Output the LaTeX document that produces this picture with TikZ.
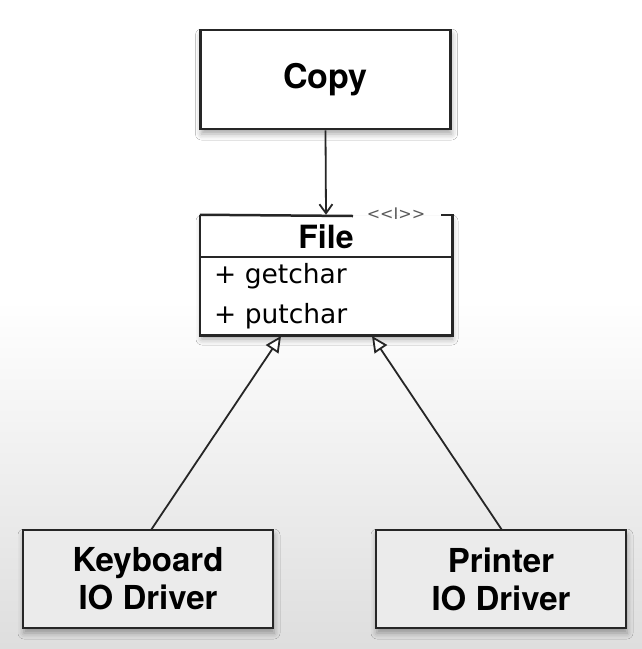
\documentclass[tikz,border=0pt]{standalone}
\usepackage{fontspec}
\setmainfont{TeX Gyre Heros}
\newfontfamily\methodfont{DejaVu Sans}
\usetikzlibrary{arrows.meta,shadows.blur}
\begin{document}
\begin{tikzpicture}[x=1pt,y=-1pt,
  box/.style={draw=black!85, line width=2.5pt, rectangle, inner sep=0pt,
    blur shadow={shadow xshift=1pt, shadow yshift=-5pt, shadow blur radius=6pt, shadow opacity=35}},
  boxlabel/.style={font=\bfseries\fontsize{34}{38}\selectfont, align=center},
  drvlabel/.style={font=\bfseries\fontsize{33}{38}\selectfont, align=center},
  conn/.style={line width=1.8pt, draw=black!85},
  method/.style={font=\methodfont\fontsize{26.5}{30}\selectfont, anchor=base west, inner sep=0pt},
  fileline/.style={line width=2.5pt, draw=black!85}
]
\useasboundingbox (0,0) rectangle (642,649);
% background
\fill[white] (0,0) rectangle (642,300);
\shade[top color=white, bottom color=black!13] (0,300) rectangle (642,649);

% Copy
\node[box, fill=white, minimum width=250pt, minimum height=99pt] (copy) at (325.5,79.5) {};
\node[boxlabel] (copytxt) at (copy.center) {Copy};

% File class
\node[box, draw=none, fill=white, minimum width=250pt, minimum height=118pt] (file) at (326,275) {};
\draw[fileline, line join=miter]
  (file.north west) -- (file.south west) -- (file.south east) -- (file.north east) -- ++(-11,0);
\coordinate (gapL) at (353,216);
\draw[fileline] (file.north west) -- (gapL);
\draw[fileline, line width=2pt] (file.west |- 0,257) -- (file.east |- 0,257);
\node[font=\bfseries\fontsize{32}{36}\selectfont] (filetitle) at (326,236.5) {File};
\node[font=\methodfont\fontsize{16}{17}\selectfont, text=black!65, inner sep=0pt] (stereo) at (396,214) {<\kern0pt<\kern0ptI\kern0pt>\kern0pt>};
\node[method] (get) at (214,283) {+ getchar};
\node[method] (put) at (214,323) {+ putchar};

% Drivers
\node[box, fill=black!8, minimum width=250pt, minimum height=98pt] (kbd) at (148,579) {};
\node[drvlabel] (kbdtxt) at (kbd.center) {Keyboard\\IO Driver};
\node[box, fill=black!8, minimum width=250pt, minimum height=98pt] (prn) at (501,579) {};
\node[drvlabel] (prntxt) at (prn.center) {Printer\\IO Driver};

% connectors
\draw[conn, -{Straight Barb[length=9pt,width=13pt,line width=1.8pt]}] (copy.south) -- (file.north);
\coordinate (k1) at (151,530);
\coordinate (k2) at (281,336);
\coordinate (p1) at (502,530);
\coordinate (p2) at (372,336);
\draw[conn, -{Triangle[open,length=16pt,width=15pt,line width=1.8pt,fill=white]}] (k1) -- (k2);
\draw[conn, -{Triangle[open,length=16pt,width=15pt,line width=1.8pt,fill=white]}] (p1) -- (p2);
\end{tikzpicture}
\end{document}
